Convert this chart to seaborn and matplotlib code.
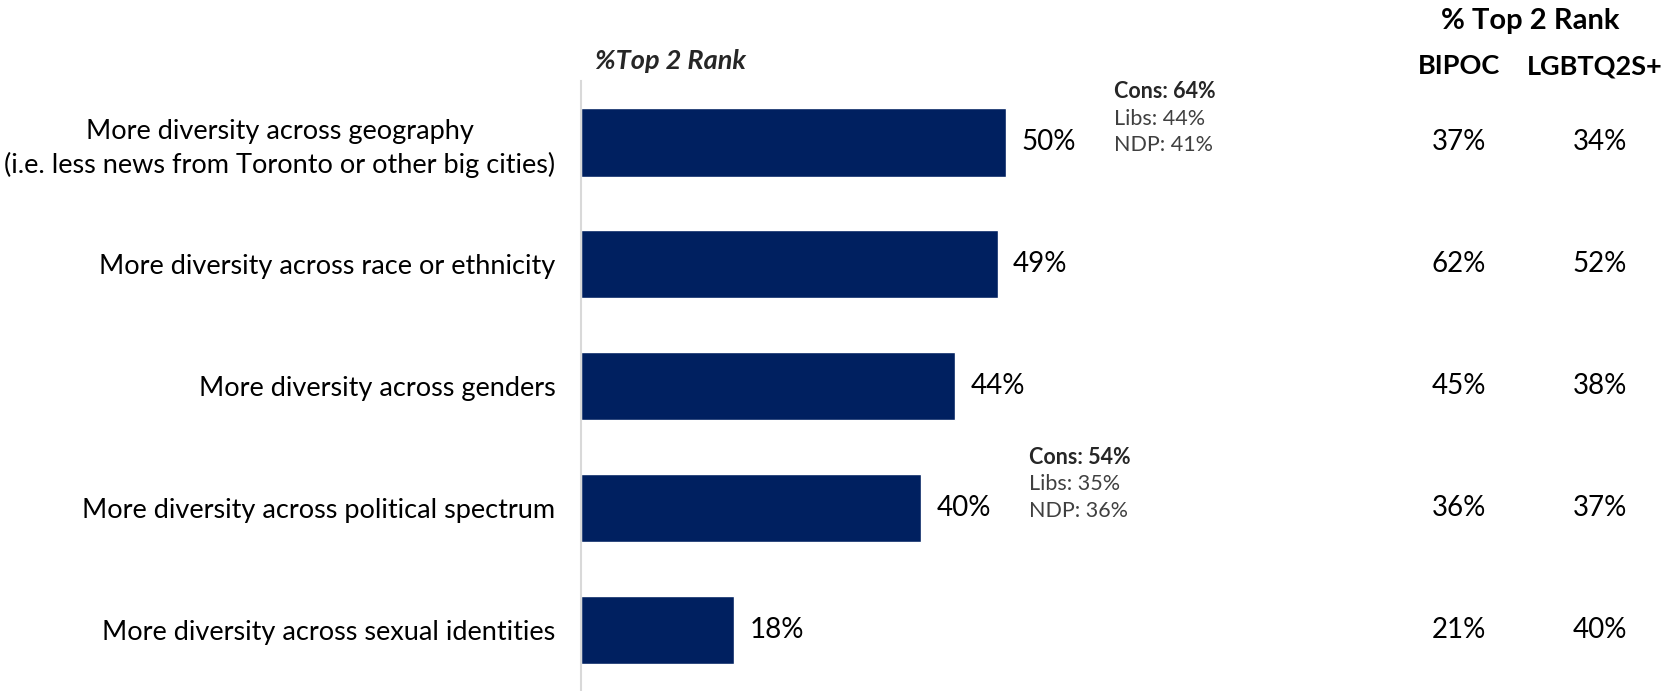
import matplotlib
matplotlib.use("Agg")
import matplotlib.pyplot as plt
import seaborn as sns
import pandas as pd

categories = [
    "More diversity across geography\n(i.e. less news from Toronto or other big cities)",
    "More diversity across race or ethnicity",
    "More diversity across genders",
    "More diversity across political spectrum",
    "More diversity across sexual identities",
]
top2_total = [50, 49, 44, 40, 18]
bipoc = [37, 62, 45, 36, 21]
lgbtq = [34, 52, 38, 37, 40]

# party breakdowns shown beside selected bars: (row, cons, libs, ndp)
party_rows = [0, 3]
party_cons = [64, 54]
party_libs = [44, 35]
party_ndp = [41, 36]

sns.set_theme(style="white")
plt.rcParams["font.family"] = ["Lato", "DejaVu Sans"]

W, H, DPI = 1671, 691, 100
fig = plt.figure(figsize=(W / DPI, H / DPI), dpi=DPI)
ax_left = 581 / W
ax = fig.add_axes([ax_left, 0.0, 1.0 - ax_left, (691 - 84) / H * (609.5 / 607)])

df = pd.DataFrame({"item": categories, "pct": top2_total})
sns.barplot(data=df, y="item", x="pct", orient="h", color="#002060",
            width=0.56, ax=ax, saturation=1)

px_per_pct = 8.5
ax.set_xlim(0, (W - 581) / px_per_pct)
ax.set_ylim(4.5, -0.5)
ax.set_xlabel("")
ax.set_ylabel("")
ax.set_xticks([])
for s in ["top", "right", "bottom"]:
    ax.spines[s].set_visible(False)
ax.spines["left"].set_color("#d9d9d9")
ax.spines["left"].set_linewidth(1.5)
ax.tick_params(axis="y", length=0, pad=18.5, labelsize=19.5, labelcolor="#000000")
for lbl in ax.get_yticklabels():
    lbl.set_horizontalalignment("right")
    lbl.set_multialignment("center")
    lbl.set_linespacing(1.35)

# value labels at bar ends
for i, v in enumerate(top2_total):
    ax.text(v + 1.8, i, f"{v}%", va="center", ha="left", fontsize=20, color="#000000")

# party breakdown notes
for r, c, l, n in zip(party_rows, party_cons, party_libs, party_ndp):
    x0 = top2_total[r] + 12.7
    ax.text(x0, r - 0.415, f"Cons: {c}%", va="center", ha="left", fontsize=15.5,
            fontweight="bold", color="#262626")
    ax.text(x0, r - 0.196, f"Libs: {l}%", va="center", ha="left", fontsize=15.5, color="#404040")
    ax.text(x0, r + 0.022, f"NDP: {n}%", va="center", ha="left", fontsize=15.5, color="#404040")

# subgroup columns
bx = (1459 - 581) / px_per_pct
lx = (1600 - 581) / px_per_pct
for i, (b, g) in enumerate(zip(bipoc, lgbtq)):
    ax.text(bx, i, f"{b}%", va="center", ha="center", fontsize=20, color="#000000")
    ax.text(lx, i, f"{g}%", va="center", ha="center", fontsize=20, color="#000000")

fig.text(1530 / W, 1 - 21 / H, "% Top 2 Rank", ha="center", va="center",
         fontsize=21, fontweight="bold", color="#000000")
fig.text(1459 / W, 1 - 66 / H, "BIPOC", ha="center", va="center",
         fontsize=19.5, fontweight="bold", color="#000000")
fig.text(1595 / W, 1 - 66 / H, "LGBTQ2S+", ha="center", va="center",
         fontsize=19.5, fontweight="bold", color="#000000")
fig.text(595 / W, 1 - 61 / H, "%Top 2 Rank", ha="left", va="center",
         fontsize=19.5, fontweight="bold", fontstyle="italic", color="#262626")

fig.savefig("out.png", dpi=DPI)
